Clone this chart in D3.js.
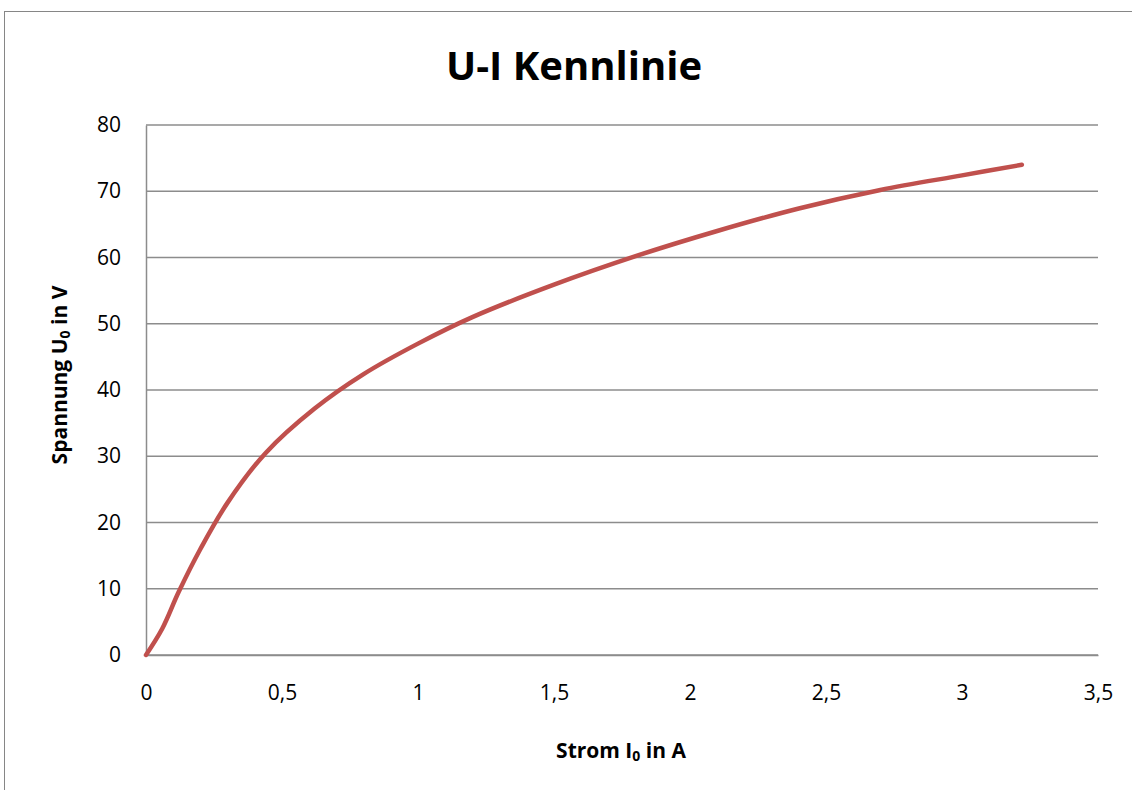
<!DOCTYPE html>
<html lang="de">
<head>
<meta charset="utf-8">
<script src="https://cdn.jsdelivr.net/npm/d3@7"></script>
<style>
	body { margin: 0; background: #fff; }
	text { font-family: "Open Sans", "Noto Sans", sans-serif; fill: #000; }
</style>
</head>
<body>
<script>
	var w = 1132;
	var h = 790;

	// Messwerte: Strom I0 in A, Spannung U0 in V
	var strom    = [0, 0.06, 0.12, 0.2, 0.3, 0.44, 0.62, 0.8, 1.0, 1.2, 1.5, 1.8, 2.1, 2.4, 2.7, 3.0, 3.22];
	var spannung = [0, 4, 9.5, 16, 23, 30.5, 37.2, 42.4, 47.0, 51.0, 55.9, 60.2, 64.0, 67.4, 70.2, 72.4, 74];

	var xTicks = [0, 0.5, 1, 1.5, 2, 2.5, 3, 3.5];
	var yTicks = [0, 10, 20, 30, 40, 50, 60, 70, 80];

	var data = strom.map(function(d, i) { return {i: d, u: spannung[i]}; });

	var pLeft = 146, pRight = 1098, pTop = 125, pBottom = 655; // Plotbereich

	var svg = d3.select("body").append("svg")
		.attr("width", w)
		.attr("height", h);

	// Rahmen des Diagramms
	svg.append("rect")
		.attr("x", 4.5).attr("y", 11.5)
		.attr("width", 1200).attr("height", 900)
		.attr("fill", "none")
		.attr("stroke", "#868686")
		.attr("stroke-width", 1);

	var x = d3.scaleLinear().domain([0, 3.5]).range([pLeft, pRight]);
	var y = d3.scaleLinear().domain([0, 80]).range([pBottom, pTop]);

	var fmt = function(d) { return String(d).replace(".", ","); };

	// Gitterlinien
	svg.append("g")
		.selectAll("line")
		.data(yTicks)
		.enter()
		.append("line")
		.attr("x1", pLeft).attr("x2", pRight)
		.attr("y1", function(d) { return y(d); })
		.attr("y2", function(d) { return y(d); })
		.attr("stroke", "#8c8c8c")
		.attr("stroke-width", 1.5);

	// Achsen
	var yAxis = svg.append("g")
		.attr("transform", "translate(" + pLeft + ",0)")
		.call(d3.axisLeft(y).tickValues(yTicks).tickSize(0).tickPadding(25).tickFormat(fmt));
	var xAxis = svg.append("g")
		.attr("transform", "translate(0," + pBottom + ")")
		.call(d3.axisBottom(x).tickValues(xTicks).tickSize(0).tickPadding(30).tickFormat(fmt));

	[yAxis, xAxis].forEach(function(a) {
		a.select(".domain").attr("stroke", "#8c8c8c").attr("stroke-width", 1.5);
		a.selectAll("text")
			.style("font-family", "\"Open Sans\", sans-serif")
			.style("font-size", "21px")
			.attr("fill", "#000");
	});

	// Kennlinie
	var line = d3.line()
		.x(function(d) { return x(d.i); })
		.y(function(d) { return y(d.u); })
		.curve(d3.curveCatmullRom.alpha(0.5));

	svg.append("path")
		.datum(data)
		.attr("d", line)
		.attr("fill", "none")
		.attr("stroke", "#c0504d")
		.attr("stroke-width", 4.5)
		.attr("stroke-linecap", "round")
		.attr("stroke-linejoin", "round");

	// Titel
	svg.append("text")
		.attr("x", 574).attr("y", 80)
		.attr("text-anchor", "middle")
		.style("font-size", "40px")
		.style("font-weight", "bold")
		.text("U-I Kennlinie");

	// Achsentitel
	var xt = svg.append("text")
		.attr("x", 621).attr("y", 758)
		.attr("text-anchor", "middle")
		.style("font-size", "21px")
		.style("font-weight", "bold");
	xt.append("tspan").text("Strom I");
	xt.append("tspan").attr("dy", 3).style("font-size", "14px").text("0");
	xt.append("tspan").attr("dy", -3).text(" in A");

	var yt = svg.append("text")
		.attr("transform", "translate(67,375) rotate(-90)")
		.attr("text-anchor", "middle")
		.style("font-size", "21px")
		.style("font-weight", "bold");
	yt.append("tspan").text("Spannung U");
	yt.append("tspan").attr("dy", 3).style("font-size", "14px").text("0");
	yt.append("tspan").attr("dy", -3).text(" in V");
</script>
</body>
</html>
